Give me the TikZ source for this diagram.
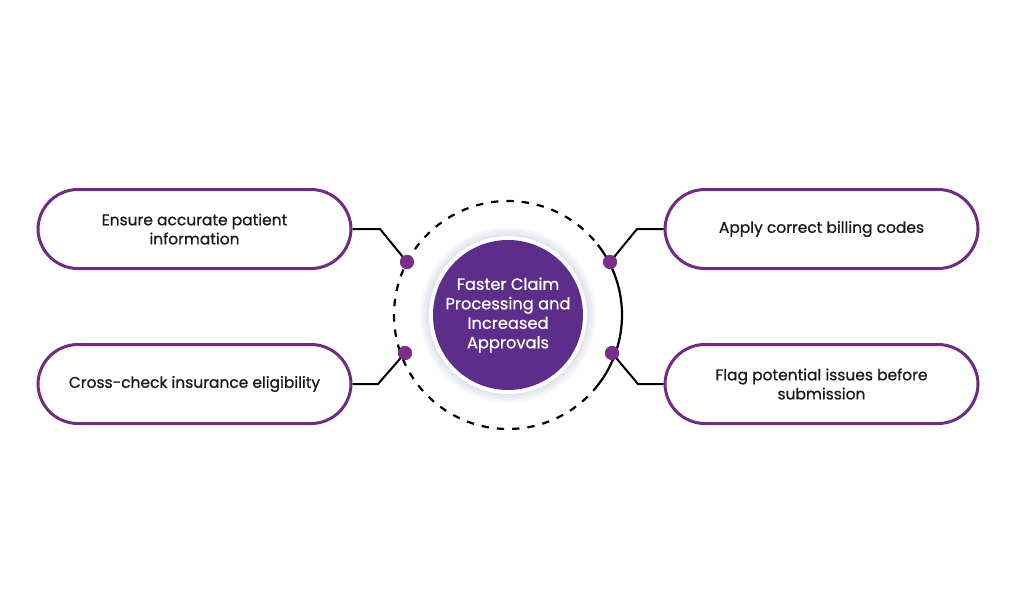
\documentclass[tikz,border=0pt]{standalone}
\usepackage{fontspec}
\setmainfont{Poppins}
\newfontfamily\pmed{Poppins}[FakeBold=0.8]
\usetikzlibrary{calc}
\definecolor{pborder}{HTML}{6E2C82}
\definecolor{pfill}{HTML}{5C2D8A}
\definecolor{pdot}{HTML}{7A2E8A}
\definecolor{txt}{HTML}{1A1A1A}
\definecolor{glow}{HTML}{9AA6C8}
\tikzset{
  pill/.style={draw=pborder, line width=3pt*0.75, fill=white, rounded corners=30pt,
    minimum width=313*0.75pt, minimum height=79*0.75pt, align=center,
    text=txt, font=\pmed\fontsize{11.6}{14.3}\selectfont, inner sep=0pt},
  pdotst/.style={circle, fill=pdot, minimum size=14*0.75pt, inner sep=0pt},
  conn/.style={line width=2pt*0.75, black},
}
\begin{document}
\begin{tikzpicture}[x=0.75pt,y=-0.75pt]
\useasboundingbox[fill=white] (0,0) rectangle (1024,597);
\coordinate (c) at (508,315);
% outer ring
\draw[line width=2.2*0.75pt, dash pattern=on 5.5pt off 6pt] (c) ++(38:114) arc[start angle=38, end angle=322, radius=114];
\draw[line width=2.2*0.75pt] (c) ++(-38:114) arc[start angle=-38, end angle=38, radius=114];
% glow
\foreach \r in {79,80.5,...,88}{\fill[glow, opacity=0.05] (c) circle[radius=\r];}
\fill[white] (c) circle[radius=79];
\node[circle, fill=pfill, minimum size=150*0.75pt, inner sep=0pt, text=white, align=center,
  font=\pmed\fontsize{12.2}{14.6}\selectfont] (hub) at (c) {Faster Claim\\Processing and\\Increased\\Approvals};
% boxes
\node[pill] (b1) at (194.5,229) {Ensure accurate patient\\information};
\node[pill] (b2) at (194.5,384) {Cross-check insurance eligibility};
\node[pill] (b3) at (821.5,229) {Apply correct billing codes};
\node[pill] (b4) at (821.5,384) {Flag potential issues before\\submission};
% dots
\node[pdotst] (d1) at (407,262) {};
\node[pdotst] (d2) at (405,353) {};
\node[pdotst] (d3) at (610,262) {};
\node[pdotst] (d4) at (612,353) {};
\coordinate (k1) at (380,229);
\coordinate (k2) at (378,384);
\coordinate (k3) at (637,229);
\coordinate (k4) at (638,384);
\draw[conn] (b1.east) -- (k1) -- (d1.center);
\draw[conn] (b2.east) -- (k2) -- (d2.center);
\draw[conn] (b3.west) -- (k3) -- (d3.center);
\draw[conn] (b4.west) -- (k4) -- (d4.center);
\node[pdotst] at (d1) {};
\node[pdotst] at (d2) {};
\node[pdotst] at (d3) {};
\node[pdotst] at (d4) {};
\end{tikzpicture}
\end{document}
